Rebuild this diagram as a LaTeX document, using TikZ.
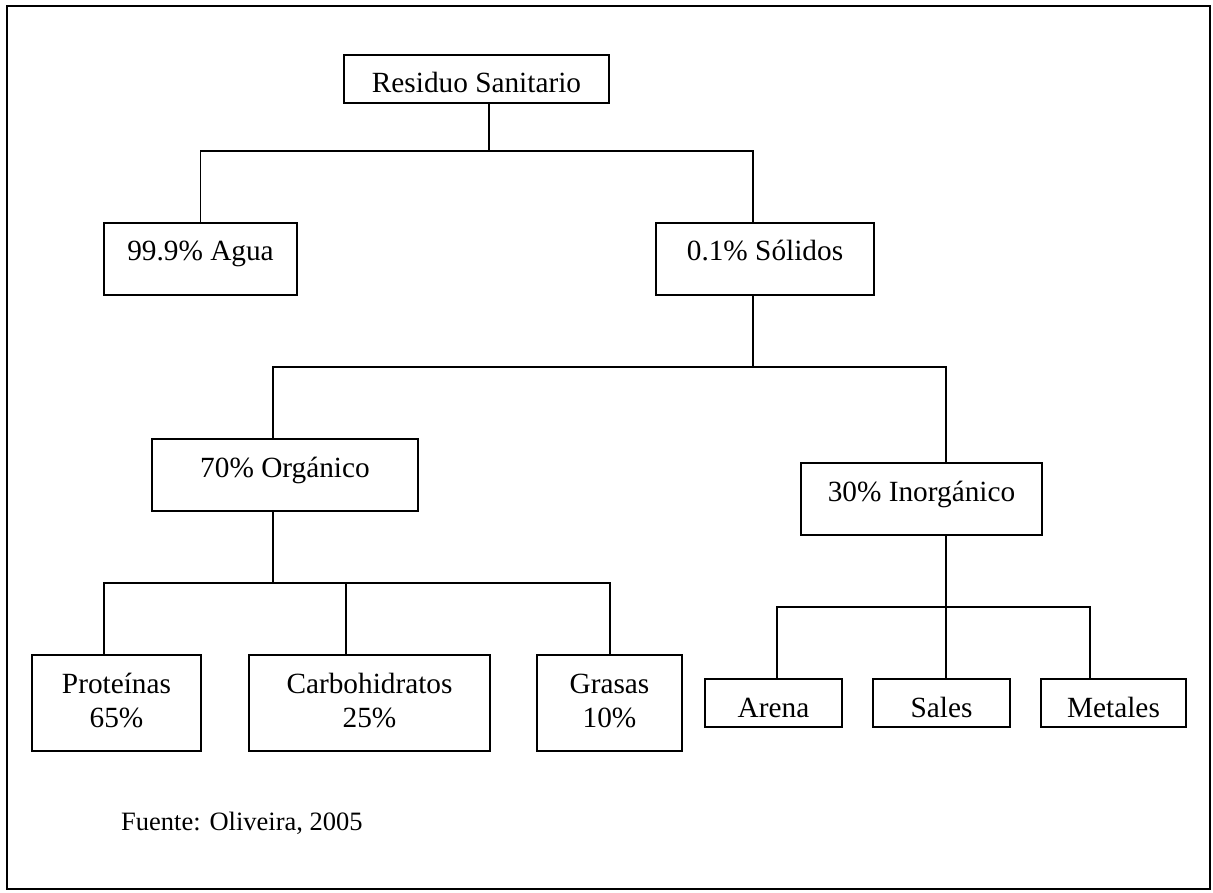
\documentclass[tikz,border=0pt]{standalone}
\usepackage{fontspec}
\setmainfont{Liberation Serif}
\begin{document}
\begin{tikzpicture}[x=1pt,y=-1pt,
  box/.style={draw, line width=1.5pt, inner sep=0pt, align=center,
    font=\fontsize{29.3}{34}\selectfont},
  one/.style={text height=38pt, text depth=34pt},
  flat/.style={text height=38pt, text depth=10pt},
  two/.style={text height=72pt, text depth=24pt},
  conn/.style={line width=1.5pt}]
\useasboundingbox (0,0) rectangle (1213,893);
\draw[line width=2.2pt] (7,6) rectangle (1210,889);

\node[box,flat,minimum width=265pt] (rs) at (476.5,79) {Residuo Sanitario};
\node[box,one,minimum width=193pt] (agua) at (200.5,259) {99.9\% Agua};
\node[box,one,minimum width=218pt] (sol) at (765,259) {0.1\% Sólidos};
\node[box,one,minimum width=266pt] (org) at (285,475) {70\% Orgánico};
\node[box,one,minimum width=241pt] (inorg) at (921.5,499) {30\% Inorgánico};
\node[box,two,minimum width=169pt] (prot) at (116.5,703) {Proteínas\\65\%};
\node[box,two,minimum width=241pt] (carb) at (369.5,703) {Carbohidratos\\25\%};
\node[box,two,minimum width=145pt] (gras) at (609.5,703) {Grasas\\10\%};
\node[box,flat,minimum width=137pt] (arena) at (773.5,703) {Arena};
\node[box,flat,minimum width=137pt] (sales) at (941.5,703) {Sales};
\node[box,flat,minimum width=145pt] (metal) at (1113.5,703) {Metales};

\node[anchor=base west, inner sep=0pt, font=\fontsize{26.5}{30}\selectfont] (src) at (121,830) {Fuente: Oliveira, 2005};

% level 1
\coordinate (b1) at (489,151);
\coordinate (d1) at (753,151);
\draw[conn] (rs.south -| b1) -- (b1);
\draw[conn] (agua.north) |- (d1) -- (d1 |- sol.north);
% level 2
\coordinate (b2) at (753,367);
\coordinate (d2l) at (273,367);
\coordinate (d2r) at (946,367);
\draw[conn] (sol.south -| b2) -- (b2);
\draw[conn] (d2l |- org.north) -- (d2l) -- (d2r) -- (d2r |- inorg.north);
% organic children
\coordinate (b3) at (273,583);
\coordinate (p3) at (104,583);
\coordinate (c3) at (346,583);
\coordinate (g3) at (610,583);
\draw[conn] (org.south -| b3) -- (b3);
\draw[conn] (p3 |- prot.north) -- (p3) -- (g3) -- (g3 |- gras.north);
\draw[conn] (c3) -- (c3 |- carb.north);
% inorganic children
\coordinate (b4) at (946,607);
\coordinate (a4) at (777,607);
\coordinate (m4) at (1090,607);
\draw[conn] (inorg.south -| b4) -- (b4) -- (b4 |- sales.north);
\draw[conn] (a4 |- arena.north) -- (a4) -- (m4) -- (m4 |- metal.north);
\end{tikzpicture}
\end{document}
